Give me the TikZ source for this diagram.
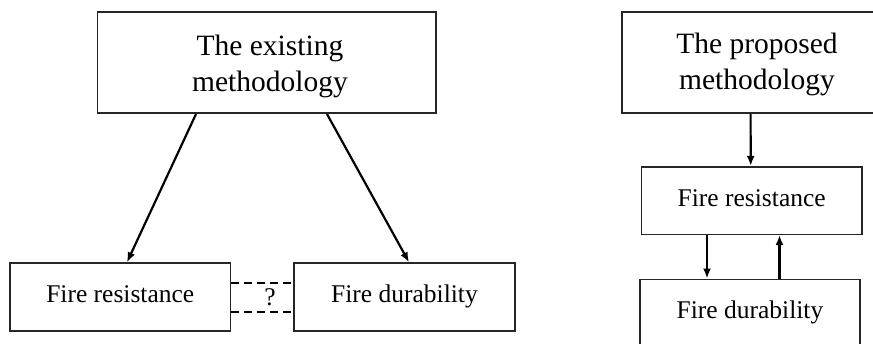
\documentclass[tikz,border=0pt]{standalone}
\usepackage{fontspec}
\setmainfont{Liberation Serif}
\usetikzlibrary{arrows.meta}
\begin{document}
\begin{tikzpicture}[x=1pt,y=-1pt,
  box/.style={draw=black!85,line width=1.6pt,rectangle,inner sep=0pt,align=center},
  bigtext/.style={font=\fontsize{29.5}{36}\selectfont,align=center,inner sep=0pt},
  smalltext/.style={font=\fontsize{25.5}{30}\selectfont,text height=17pt,text depth=6pt},
  arr/.style={line width=2.2pt,-{Latex[length=10pt,width=8pt]}},
  dashline/.style={line width=2.2pt,dash pattern=on 8pt off 5pt}]
\useasboundingbox (0,0) rectangle (873,343);
% left part
\node[box,minimum width=338.6pt,minimum height=101.5pt] (top) at (266.7,62.5) {};
\node[bigtext] (toptxt) at (270,66.5) {The existing\\methodology};
\node[box,smalltext,minimum width=220.5pt,minimum height=67.7pt] (fr) at (120.25,296.9) {Fire resistance};
\node[box,smalltext,minimum width=221pt,minimum height=67.7pt] (fd) at (404.5,296.9) {Fire durability};
\draw[arr] ([xshift=-70.7pt]top.south) -- ([xshift=6.75pt]fr.north);
\draw[arr] ([xshift=60.3pt]top.south) -- ([xshift=4.5pt]fd.north);
\draw[dashline] ([yshift=14.2pt]fr.east) -- ([yshift=14.2pt]fd.west);
\draw[dashline] ([yshift=-14.8pt]fr.east) -- ([yshift=-14.8pt]fd.west);
\node[font=\fontsize{25.5}{30}\selectfont,inner sep=0pt] (q) at (270,297) {?};
% right part
\node[box,minimum width=270pt,minimum height=101.5pt] (ptop) at (757,62.5) {};
\node[bigtext] (ptoptxt) at (757,64.5) {The proposed\\methodology};
\node[box,smalltext,minimum width=220.6pt,minimum height=67.6pt] (pfr) at (751.7,200.5) {Fire resistance};
\node[box,smalltext,minimum width=220pt,minimum height=67pt] (pfd) at (750,312.8) {Fire durability};
\draw[arr] ([xshift=-6.4pt]ptop.south) -- ([xshift=-1pt]pfr.north);
\draw[arr] ([xshift=-44.7pt]pfr.south) -- ([xshift=-43pt]pfd.north);
\draw[arr] ([xshift=29.5pt]pfd.north) -- ([xshift=27.8pt]pfr.south);
\end{tikzpicture}
\end{document}
